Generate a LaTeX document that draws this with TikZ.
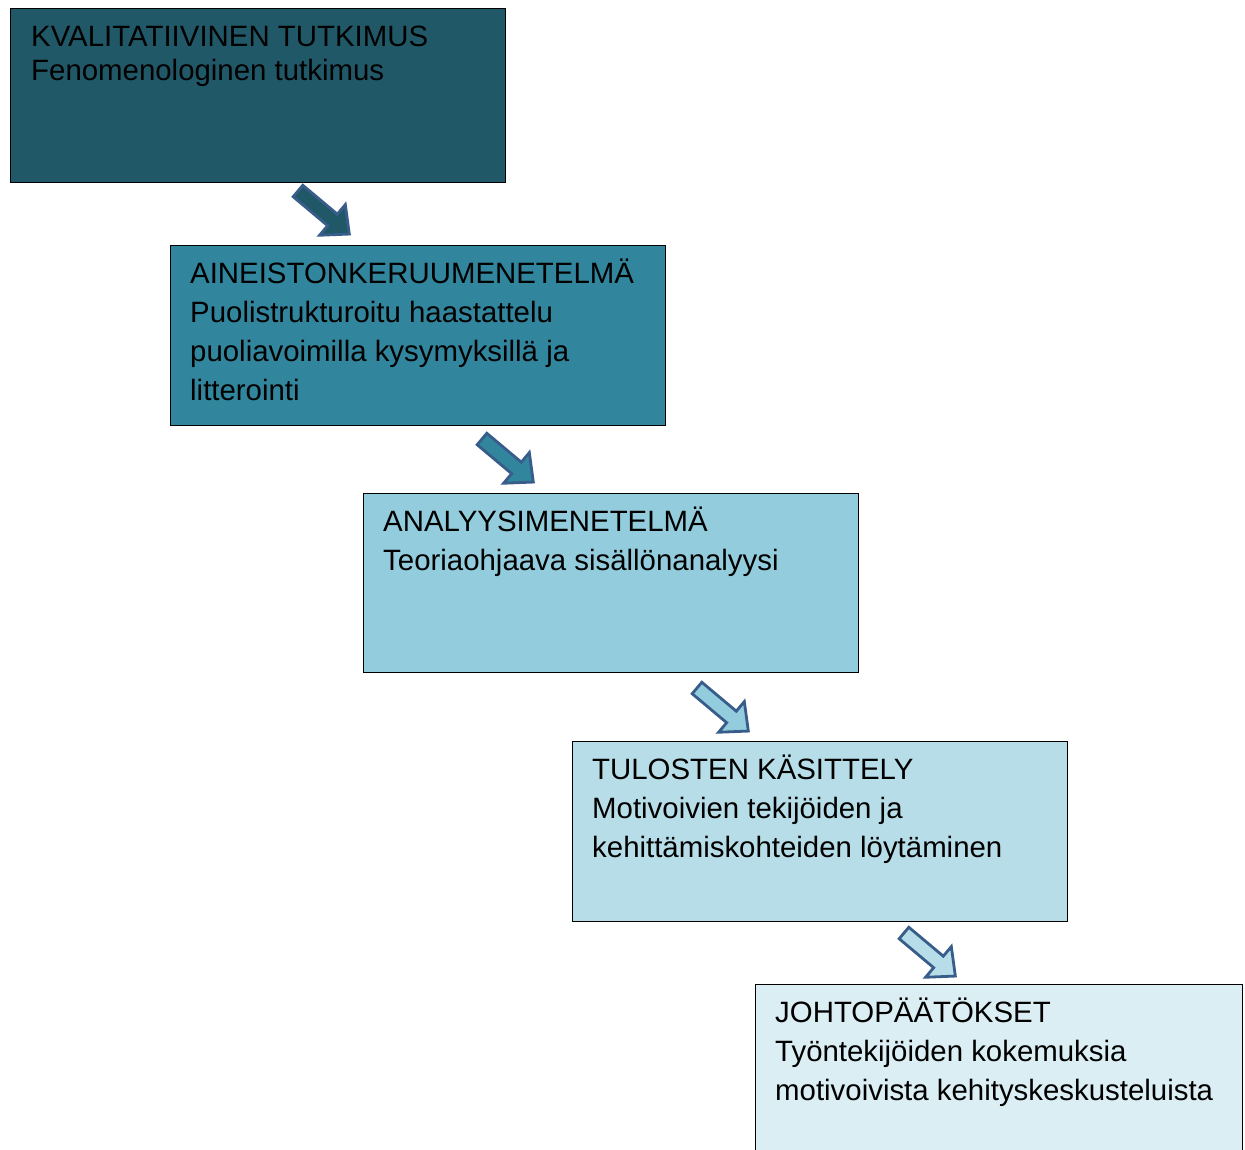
\documentclass[tikz,border=0pt]{standalone}
\usepackage{fontspec}
\setmainfont{Liberation Sans}
\definecolor{cA}{HTML}{215868}
\definecolor{cB}{HTML}{31859C}
\definecolor{cC}{HTML}{93CDDD}
\definecolor{cD}{HTML}{B7DEE8}
\definecolor{cE}{HTML}{DBEEF4}
\definecolor{arrowline}{HTML}{385D8A}
\begin{document}
\begin{tikzpicture}[x=1pt,y=-1pt,
  stagebox/.style={draw=black, line width=1pt, anchor=north west, inner sep=0pt,
    minimum width=495pt, minimum height=180pt},
  txt/.style={anchor=base west, align=left, inner sep=0pt,
    font=\fontsize{29.4}{39}\selectfont},
  blockarrow/.style={draw=arrowline, line width=2.8pt, line join=miter}]
\useasboundingbox (0,0) rectangle (1245,1150);
\begin{scope}
\clip (0,0) rectangle (1245,1150);
\node[stagebox, fill=cA, minimum height=174pt] (b1) at (10,8) {};
\node[stagebox, fill=cB] (b2) at (170,245) {};
\node[stagebox, fill=cC, minimum height=179pt] (b3) at (363,493) {};
\node[stagebox, fill=cD] (b4) at (572,741) {};
\node[stagebox, fill=cE, minimum width=487pt, minimum height=200pt] (b5) at (755,984) {};
\end{scope}

% anchor base west = baseline of the last line
\node[txt, font=\fontsize{29.4}{34}\selectfont] (t1) at ([shift={(21,73)}]b1.north west)
  {KVALITATIIVINEN TUTKIMUS\\Fenomenologinen tutkimus};
\node[txt] (t2) at ([shift={(20,155)}]b2.north west)
  {AINEISTONKERUUMENETELMÄ\\Puolistrukturoitu haastattelu\\puoliavoimilla kysymyksillä ja\\litterointi};
\node[txt] (t3) at ([shift={(20,77)}]b3.north west)
  {ANALYYSIMENETELMÄ\\Teoriaohjaava sisällönanalyysi};
\node[txt] (t4) at ([shift={(20,116)}]b4.north west)
  {TULOSTEN KÄSITTELY\\Motivoivien tekijöiden ja\\kehittämiskohteiden löytäminen};
\node[txt] (t5) at ([shift={(20,116)}]b5.north west)
  {JOHTOPÄÄTÖKSET\\Työntekijöiden kokemuksia\\motivoivista kehityskeskusteluista};

\foreach \tx/\ty/\col/\nm in {298/191/cA/a1, 482/439/cB/a2, 697/688/cC/a3, 904/933/cD/a4}{
  \begin{scope}[shift={(\tx,\ty)}, rotate=-40]
    \coordinate (\nm) at (0,0);
    \draw[blockarrow, fill=\col] (0,-7.5) -- (45,-7.5) -- (45,-20) -- (67,0) -- (45,20) -- (45,7.5) -- (0,7.5) -- cycle;
  \end{scope}
}
\end{tikzpicture}
\end{document}
